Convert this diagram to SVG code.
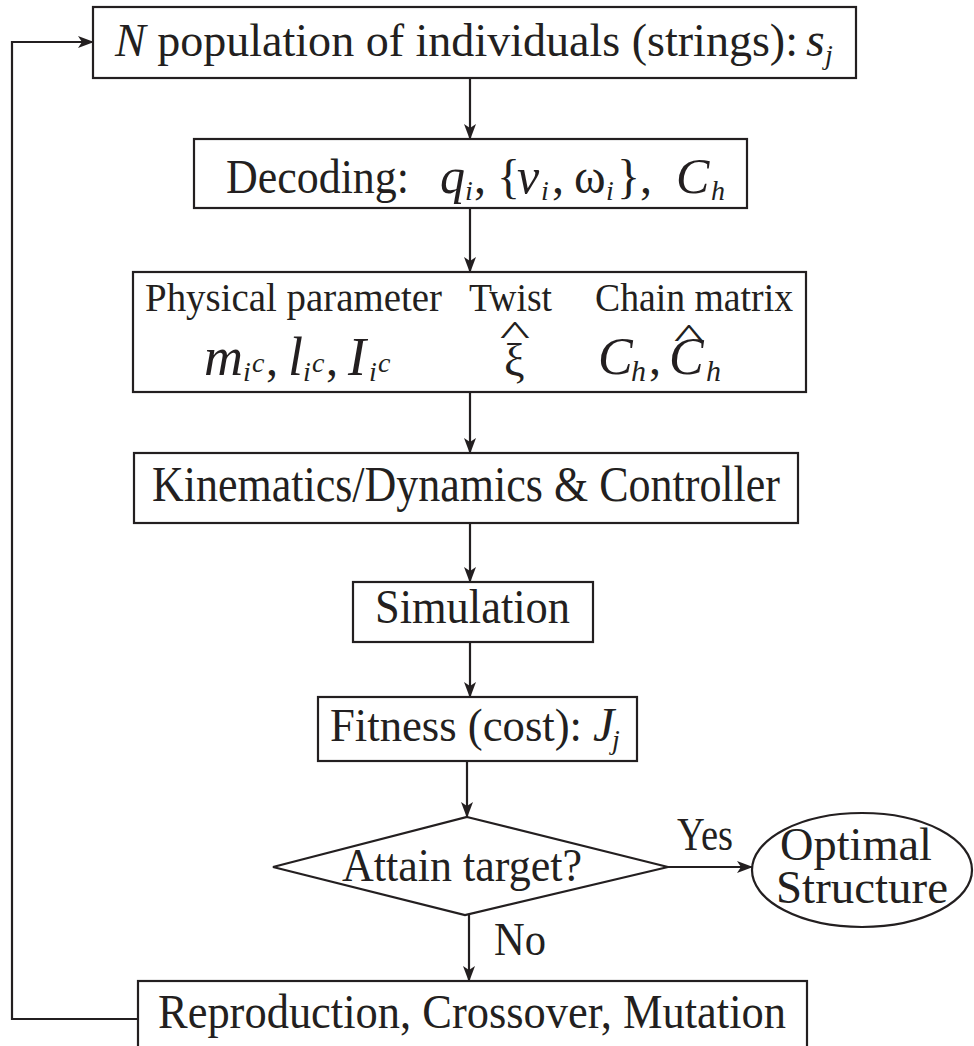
<svg xmlns="http://www.w3.org/2000/svg" width="974" height="1046" viewBox="0 0 974 1046">
<style>
.box{fill:#fff;stroke:#231f20;stroke-width:2.2}
.t{font-family:"Liberation Serif","Times New Roman",serif;fill:#231f20}
.i{font-style:italic}
.ln{fill:none;stroke:#231f20;stroke-width:2.2}
</style>
<defs>
<marker id="ah" markerUnits="userSpaceOnUse" markerWidth="16" markerHeight="12" refX="15" refY="6" orient="auto">
<path d="M0,0 L16,6 L0,12 L4,6 z" fill="#231f20"/>
</marker>
</defs>
<rect width="974" height="1046" fill="#fff"/>
<g id="connectors">
<line class="ln" x1="470" y1="78" x2="470" y2="139" marker-end="url(#ah)"/>
<line class="ln" x1="470" y1="208" x2="470" y2="272" marker-end="url(#ah)"/>
<line class="ln" x1="470" y1="392" x2="470" y2="453" marker-end="url(#ah)"/>
<line class="ln" x1="470" y1="523" x2="470" y2="582" marker-end="url(#ah)"/>
<line class="ln" x1="470" y1="642" x2="470" y2="697" marker-end="url(#ah)"/>
<line class="ln" x1="467" y1="761" x2="467" y2="817" marker-end="url(#ah)"/>
<line class="ln" x1="668" y1="867" x2="752" y2="867" marker-end="url(#ah)"/>
<line class="ln" x1="469" y1="915" x2="469" y2="981" marker-end="url(#ah)"/>
<polyline class="ln" points="138,1019 12,1019 12,42 93,42" marker-end="url(#ah)"/>
<text class="t" x="677" y="850" font-size="46" textLength="56" lengthAdjust="spacingAndGlyphs">Yes</text>
<text class="t" x="494" y="955" font-size="46" textLength="52" lengthAdjust="spacingAndGlyphs">No</text>
</g>
<g id="population">
<rect class="box" x="93" y="7" width="763" height="71"/>
<text class="t" x="115" y="56" font-size="46" textLength="683" lengthAdjust="spacingAndGlyphs"><tspan class="i">N</tspan> population of individuals (strings):</text>
<text class="t i" x="806" y="56" font-size="48">s</text>
<text class="t i" x="825" y="64" font-size="28">j</text>
</g>
<g id="decoding">
<rect class="box" x="194" y="139" width="553" height="69"/>
<text class="t" x="226" y="193" font-size="48" textLength="183" lengthAdjust="spacingAndGlyphs">Decoding:</text>
<text class="t i" x="440" y="193" font-size="50">q</text>
<text class="t i" x="465" y="200" font-size="28">i</text>
<text class="t" x="474" y="193" font-size="48">,</text>
<text class="t" x="497" y="193" font-size="48">{</text>
<text class="t i" x="517" y="193" font-size="50">v</text>
<text class="t i" x="541" y="200" font-size="28">i</text>
<text class="t" x="552" y="193" font-size="48">,</text>
<text class="t" x="574" y="193" font-size="48">ω</text>
<text class="t i" x="606" y="200" font-size="28">i</text>
<text class="t" x="617" y="193" font-size="48">}</text>
<text class="t" x="640" y="193" font-size="48">,</text>
<text class="t i" x="676" y="193" font-size="50">C</text>
<text class="t i" x="711" y="200" font-size="28">h</text>
</g>
<g id="parameters">
<rect class="box" x="133" y="272" width="673" height="120"/>
<text class="t" x="145" y="311" font-size="41" textLength="297" lengthAdjust="spacingAndGlyphs">Physical parameter</text>
<text class="t" x="469" y="311" font-size="41" textLength="83" lengthAdjust="spacingAndGlyphs">Twist</text>
<text class="t" x="595" y="311" font-size="41" textLength="198" lengthAdjust="spacingAndGlyphs">Chain matrix</text>
<text class="t i" x="204" y="375" font-size="54">m</text>
<text class="t i" x="243" y="381" font-size="28">i</text>
<text class="t i" x="252" y="372" font-size="28">c</text>
<text class="t" x="266" y="375" font-size="48">,</text>
<text class="t i" x="288" y="375" font-size="54">l</text>
<text class="t i" x="303" y="381" font-size="28">i</text>
<text class="t i" x="312" y="372" font-size="28">c</text>
<text class="t" x="326" y="375" font-size="48">,</text>
<text class="t i" x="348" y="375" font-size="54">I</text>
<text class="t i" x="369" y="381" font-size="28">i</text>
<text class="t i" x="378" y="372" font-size="28">c</text>
<text class="t" x="504" y="376" font-size="46">ξ</text>
<text class="t" x="507" y="344" font-size="34" transform="translate(515 0) scale(1.9 1) translate(-515 0)">^</text>
<text class="t i" x="598" y="374" font-size="52">C</text>
<text class="t i" x="631" y="381" font-size="30">h</text>
<text class="t" x="649" y="374" font-size="48">,</text>
<text class="t i" x="669" y="374" font-size="52">C</text>
<text class="t" x="681" y="347" font-size="34" transform="translate(689 0) scale(1.9 1) translate(-689 0)">^</text>
<text class="t i" x="706" y="381" font-size="30">h</text>
</g>
<g id="kinematics">
<rect class="box" x="134" y="453" width="664" height="70"/>
<text class="t" x="152" y="501" font-size="50" textLength="628" lengthAdjust="spacingAndGlyphs">Kinematics/Dynamics &amp; Controller</text>
</g>
<g id="simulation">
<rect class="box" x="353" y="582" width="240" height="60"/>
<text class="t" x="375" y="623" font-size="48" textLength="195" lengthAdjust="spacingAndGlyphs">Simulation</text>
</g>
<g id="fitness">
<rect class="box" x="318" y="697" width="319" height="64"/>
<text class="t" x="330" y="741" font-size="47" textLength="252" lengthAdjust="spacingAndGlyphs">Fitness (cost):</text>
<text class="t i" x="593" y="741" font-size="48">J</text>
<text class="t i" x="612" y="749" font-size="28">j</text>
</g>
<g id="decision">
<polygon class="box" points="467,817 668,867 465,915 273,867"/>
<text class="t" x="342" y="881" font-size="47" textLength="240" lengthAdjust="spacingAndGlyphs">Attain target?</text>
</g>
<g id="optimal">
<ellipse class="box" cx="862" cy="870" rx="110" ry="57"/>
<text class="t" x="780" y="860" font-size="46" textLength="152" lengthAdjust="spacingAndGlyphs">Optimal</text>
<text class="t" x="776" y="903" font-size="46" textLength="172" lengthAdjust="spacingAndGlyphs">Structure</text>
</g>
<g id="reproduction">
<rect class="box" x="138" y="981" width="669" height="80"/>
<text class="t" x="158" y="1028" font-size="48" textLength="628" lengthAdjust="spacingAndGlyphs">Reproduction, Crossover, Mutation</text>
</g>
</svg>
